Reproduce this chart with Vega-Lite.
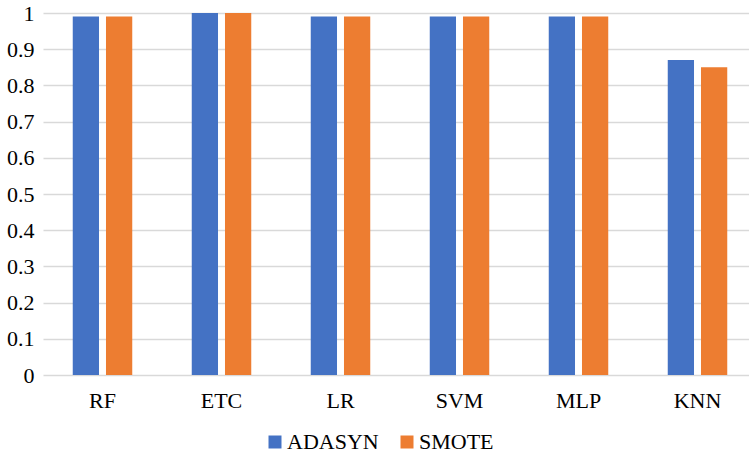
{
  "$schema": "https://vega.github.io/schema/vega-lite/v6.json",
  "autosize": "none",
  "padding": {"left": 43, "top": 13, "right": 0, "bottom": 79},
  "width": 714,
  "height": 362,
  "background": "white",
  "data": {"values": [
    {"model": "RF", "method": "ADASYN", "value": 0.99},
    {"model": "RF", "method": "SMOTE", "value": 0.99},
    {"model": "ETC", "method": "ADASYN", "value": 1.0},
    {"model": "ETC", "method": "SMOTE", "value": 1.0},
    {"model": "LR", "method": "ADASYN", "value": 0.99},
    {"model": "LR", "method": "SMOTE", "value": 0.99},
    {"model": "SVM", "method": "ADASYN", "value": 0.99},
    {"model": "SVM", "method": "SMOTE", "value": 0.99},
    {"model": "MLP", "method": "ADASYN", "value": 0.99},
    {"model": "MLP", "method": "SMOTE", "value": 0.99},
    {"model": "KNN", "method": "ADASYN", "value": 0.87},
    {"model": "KNN", "method": "SMOTE", "value": 0.85}
  ]},
  "mark": {"type": "bar"},
  "encoding": {
    "x": {
      "field": "model", "type": "nominal", "sort": null, "title": null,
      "scale": {"paddingInner": 0.5, "paddingOuter": 0.25},
      "axis": {"labelAngle": 0, "labelFontSize": 22, "labelColor": "#000000", "domain": false, "ticks": false, "labelPadding": 15}
    },
    "xOffset": {"field": "method", "type": "nominal", "scale": {"paddingInner": 0.21, "paddingOuter": 0}},
    "y": {
      "field": "value", "type": "quantitative", "title": null,
      "scale": {"domain": [0, 1], "nice": false},
      "axis": {"values": [0, 0.1, 0.2, 0.3, 0.4, 0.5, 0.6, 0.7, 0.8, 0.9, 1], "labelExpr": "datum.value == 0 ? '0' : datum.value == 1 ? '1' : format(datum.value, '.1f')", "labelFontSize": 22, "labelColor": "#000000", "domain": false, "ticks": false, "labelPadding": 9, "gridColor": "#d9d9d9", "gridWidth": 1.5}
    },
    "color": {
      "field": "method", "type": "nominal", "title": null,
      "scale": {"domain": ["ADASYN", "SMOTE"], "range": ["#4472C4", "#ED7D31"]},
      "legend": {"orient": "none", "legendX": 221, "legendY": 418, "padding": 0, "direction": "horizontal", "symbolType": "square", "symbolSize": 169, "symbolStrokeWidth": 0, "labelFontSize": 22, "labelColor": "#000000", "labelOffset": 1, "columnPadding": 17}
    }
  },
  "config": {"font": "Liberation Serif", "view": {"stroke": null}, "axis": {"labelFont": "Liberation Serif"}, "legend": {"labelFont": "Liberation Serif"}}
}
